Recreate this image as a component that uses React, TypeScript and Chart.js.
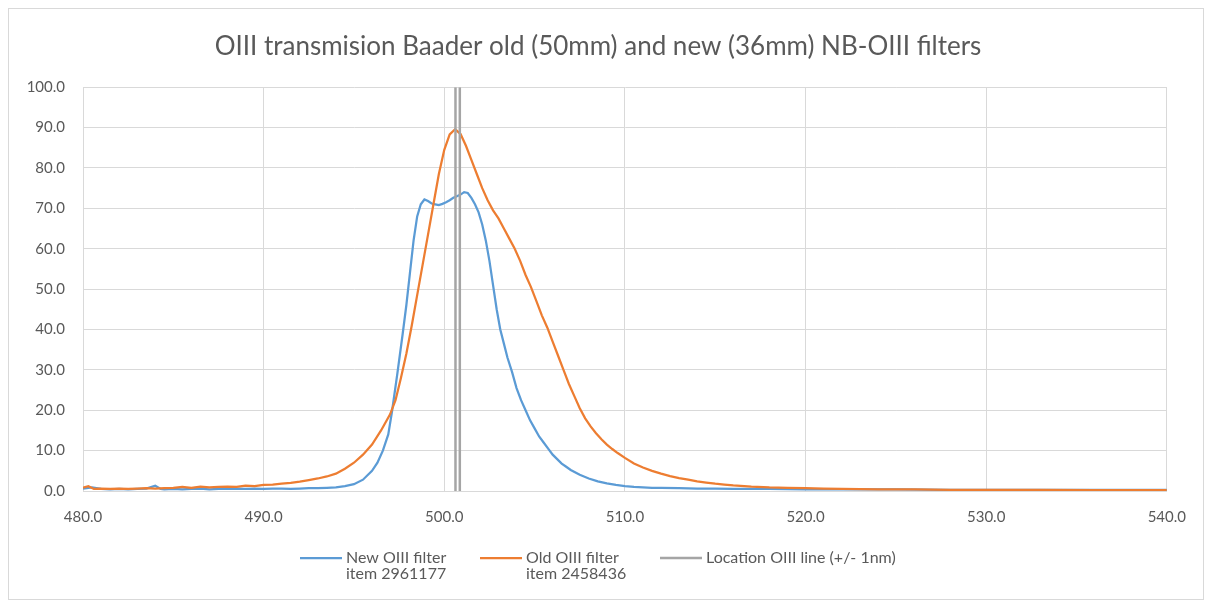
import React, { useEffect, useRef } from "react";
import { Chart, registerables } from "chart.js";

Chart.register(...registerables);

const titleText = "OIII transmision Baader old (50mm) and new (36mm) NB-OIII filters";

const xMin = 480;
const xMax = 540;
const xStep = 10;
const yMin = 0;
const yMax = 100;
const yStep = 10;

const seriesLabels = [
  ["New OIII filter", "item 2961177"],
  ["Old OIII filter", "item 2458436"],
  ["Location OIII line (+/- 1nm)"],
];
const seriesColors = ["#5b9bd5", "#ed7d31", "#a5a5a5"];

// New OIII filter (blue)
const newWl = [
  480, 480.5, 481, 481.5, 482, 482.5, 483, 483.5, 484, 484.3, 484.5, 485, 485.5, 486, 486.5, 487, 487.5, 488, 488.5,
  489, 489.5, 490, 490.5, 491, 491.5, 492, 492.5, 493, 493.5, 494, 494.5, 495, 495.5, 496, 496.3, 496.6, 496.9,
  497.1, 497.4, 497.7, 497.9, 498.1, 498.3, 498.5, 498.7, 498.9, 499.1, 499.3, 499.5, 499.7, 499.9, 500.1, 500.3,
  500.5, 500.7, 500.9, 501.1, 501.3, 501.5, 501.7, 501.9, 502.1, 502.3, 502.5, 502.7, 502.9, 503.1, 503.3, 503.5,
  503.75, 504, 504.25, 504.5, 504.75, 505, 505.25, 505.5, 505.75, 506, 506.25, 506.5, 506.75, 507, 507.5, 508,
  508.5, 509, 509.5, 510, 510.5, 511, 511.5, 512, 513, 514, 515, 516, 518, 520, 522, 525, 528, 531, 534, 537, 540,
];
const newT = [
  0.6, 0.9, 0.5, 0.4, 0.5, 0.4, 0.5, 0.6, 1.3, 0.5, 0.4, 0.5, 0.4, 0.5, 0.6, 0.4, 0.5, 0.5, 0.6,
  0.5, 0.6, 0.5, 0.6, 0.6, 0.5, 0.6, 0.7, 0.7, 0.8, 0.9, 1.2, 1.7, 2.8, 5, 7, 10, 14,
  19.5, 29, 39, 46, 54, 62, 68, 71, 72.2, 71.8, 71.2, 71, 70.8, 71.1, 71.5, 72,
  72.6, 73, 73.4, 74, 73.8, 72.6, 71, 69, 66, 62, 57, 51, 45, 40, 36.5, 33,
  29.5, 25.5, 22.5, 20, 17.5, 15.5, 13.5, 12, 10.5, 9, 7.9, 6.8, 6, 5.2, 4, 3.1,
  2.4, 1.9, 1.5, 1.2, 1.0, 0.9, 0.8, 0.8, 0.7, 0.6, 0.6, 0.5, 0.5, 0.4, 0.4, 0.4, 0.3, 0.3, 0.3, 0.3, 0.3,
];

// Old OIII filter (orange)
const oldWl = [
  480, 480.3, 480.6, 481, 481.5, 482, 482.5, 483, 483.5, 484, 484.5, 485, 485.5, 486, 486.5, 487, 487.5, 488, 488.5,
  489, 489.5, 490, 490.5, 491, 491.5, 492, 492.5, 493, 493.5, 494, 494.5, 495, 495.5, 496, 496.5, 497, 497.3, 497.6,
  497.9, 498.2, 498.5, 498.8, 499.1, 499.4, 499.7, 500, 500.3, 500.6, 500.9, 501.2, 501.5, 501.8, 502.1, 502.4,
  502.7, 503, 503.3, 503.6, 503.9, 504.2, 504.5, 504.8, 505.1, 505.4, 505.7, 506, 506.3, 506.6, 506.9, 507.2,
  507.5, 507.8, 508.1, 508.4, 508.7, 509, 509.3, 509.6, 510, 510.5, 511, 511.5, 512, 512.5, 513, 513.5, 514, 514.5,
  515, 515.5, 516, 517, 518, 519, 520, 521, 522, 524, 526, 528, 530, 533, 536, 540,
];
const oldT = [
  0.8, 1.2, 0.5, 0.6, 0.5, 0.6, 0.5, 0.6, 0.7, 0.6, 0.7, 0.8, 1.0, 0.8, 1.1, 0.9, 1.0, 1.1, 1.0,
  1.3, 1.2, 1.5, 1.6, 1.8, 2.0, 2.3, 2.7, 3.1, 3.6, 4.3, 5.5, 7, 9, 11.5, 15, 19, 22.5, 28,
  34, 41, 48.5, 56, 63.5, 71, 78.5, 84.5, 88.3, 89.6, 88.4, 85.5, 82, 78.5, 75, 72,
  69.5, 67.5, 65, 62.5, 60, 57, 53.5, 50.5, 47, 43.5, 40.5, 37, 33.5, 30, 26.5, 23.5,
  20.5, 18, 16, 14.3, 12.8, 11.5, 10.4, 9.4, 8.2, 6.8, 5.8, 5, 4.3, 3.7, 3.2, 2.8, 2.4, 2.1,
  1.8, 1.6, 1.4, 1.1, 0.9, 0.8, 0.7, 0.6, 0.5, 0.4, 0.4, 0.3, 0.3, 0.3, 0.2, 0.2,
];

// Location of OIII line (grey band edges)
const lineWl = [500.62, 500.62, null, 500.86, 500.86];
const lineT = [0, 100, null, 100, 0];

const toPoints = (xs: (number | null)[], ys: (number | null)[]) =>
  xs.map((x, i) => (x === null ? { x: NaN, y: null } : { x, y: ys[i] }));

const legendPlugin = {
  id: "excelLegend",
  afterDraw(chart: any, _args: any, opts: any) {
    const ctx = chart.ctx;
    ctx.save();
    ctx.font = `${opts.fontSize}px ${opts.fontFamily}`;
    ctx.fillStyle = opts.color;
    ctx.textBaseline = "middle";
    ctx.textAlign = "left";
    chart.data.datasets.forEach((ds: any, i: number) => {
      const x0 = opts.xs[i];
      const y0 = opts.y;
      ctx.strokeStyle = ds.borderColor;
      ctx.lineWidth = ds.borderWidth;
      ctx.beginPath();
      ctx.moveTo(x0, y0);
      ctx.lineTo(x0 + opts.lineLen, y0);
      ctx.stroke();
      const lines: string[] = ds.legendLines || [ds.label];
      lines.forEach((t, k) => {
        ctx.fillText(t, x0 + opts.lineLen + opts.gap, y0 + k * opts.lineHeight);
      });
    });
    ctx.restore();
  },
};

export default function App() {
  const ref = useRef<HTMLCanvasElement | null>(null);
  useEffect(() => {
    if (!ref.current) return;
    const font = "Lato";
    const chart = new Chart(ref.current, {
      type: "line",
      data: {
        datasets: [
          {
            label: seriesLabels[0].join(" "),
            legendLines: seriesLabels[0],
            data: toPoints(newWl, newT),
            borderColor: seriesColors[0],
            borderWidth: 2.25,
            pointRadius: 0,
            tension: 0,
            order: 2,
          } as any,
          {
            label: seriesLabels[1].join(" "),
            legendLines: seriesLabels[1],
            data: toPoints(oldWl, oldT),
            borderColor: seriesColors[1],
            borderWidth: 2.25,
            pointRadius: 0,
            tension: 0,
            order: 1,
          } as any,
          {
            label: seriesLabels[2].join(" "),
            legendLines: seriesLabels[2],
            data: toPoints(lineWl, lineT),
            borderColor: seriesColors[2],
            borderWidth: 2.5,
            pointRadius: 0,
            tension: 0,
            spanGaps: false,
            order: 0,
          } as any,
        ],
      },
      options: {
        animation: false,
        responsive: false,
        layout: { padding: { left: 0, right: 16, top: 0, bottom: 0 } },
        plugins: {
          legend: { display: false },
          tooltip: { enabled: false },
          title: {
            display: true,
            text: titleText,
            color: "#595959",
            font: { family: font, size: 26, weight: "normal" },
            padding: { top: 22, bottom: 25 },
          },
          excelLegend: {
            xs: [291, 471, 651],
            y: 549,
            lineLen: 42,
            gap: 4,
            lineHeight: 16,
            fontSize: 16,
            fontFamily: font,
            color: "#595959",
          },
        } as any,
        scales: {
          x: {
            type: "linear",
            min: xMin,
            max: xMax,
            ticks: {
              stepSize: xStep,
              color: "#595959",
              font: { family: font, size: 15 },
              padding: 17,
              maxRotation: 0,
              callback: (v: any) => Number(v).toFixed(1),
            },
            grid: { color: "#d9d9d9", drawTicks: false, lineWidth: 1 },
            border: { color: "#d9d9d9" },
            afterFit: (scale: any) => {
              scale.height = 108;
            },
          },
          y: {
            type: "linear",
            min: yMin,
            max: yMax,
            ticks: {
              stepSize: yStep,
              color: "#595959",
              font: { family: font, size: 15 },
              padding: 18,
              callback: (v: any) => Number(v).toFixed(1),
            },
            grid: { color: "#d9d9d9", drawTicks: false, lineWidth: 1 },
            border: { color: "#d9d9d9" },
            afterFit: (scale: any) => {
              scale.width = 74;
            },
          },
          spacer: {
            type: "linear",
            position: "right",
            display: true,
            min: yMin,
            max: yMax,
            ticks: { display: false },
            grid: { display: false, drawTicks: false },
            border: { display: false },
            afterFit: (scale: any) => {
              scale.width = 17;
            },
          },
        },
      },
      plugins: [legendPlugin],
    });
    return () => chart.destroy();
  }, []);
  return (
    <div
      style={{
        width: 1196,
        height: 592,
        border: "1px solid #d9d9d9",
        boxSizing: "border-box",
        background: "#fff",
      }}
    >
      <canvas ref={ref} width={1194} height={590} style={{ display: "block" }} />
    </div>
  );
}
